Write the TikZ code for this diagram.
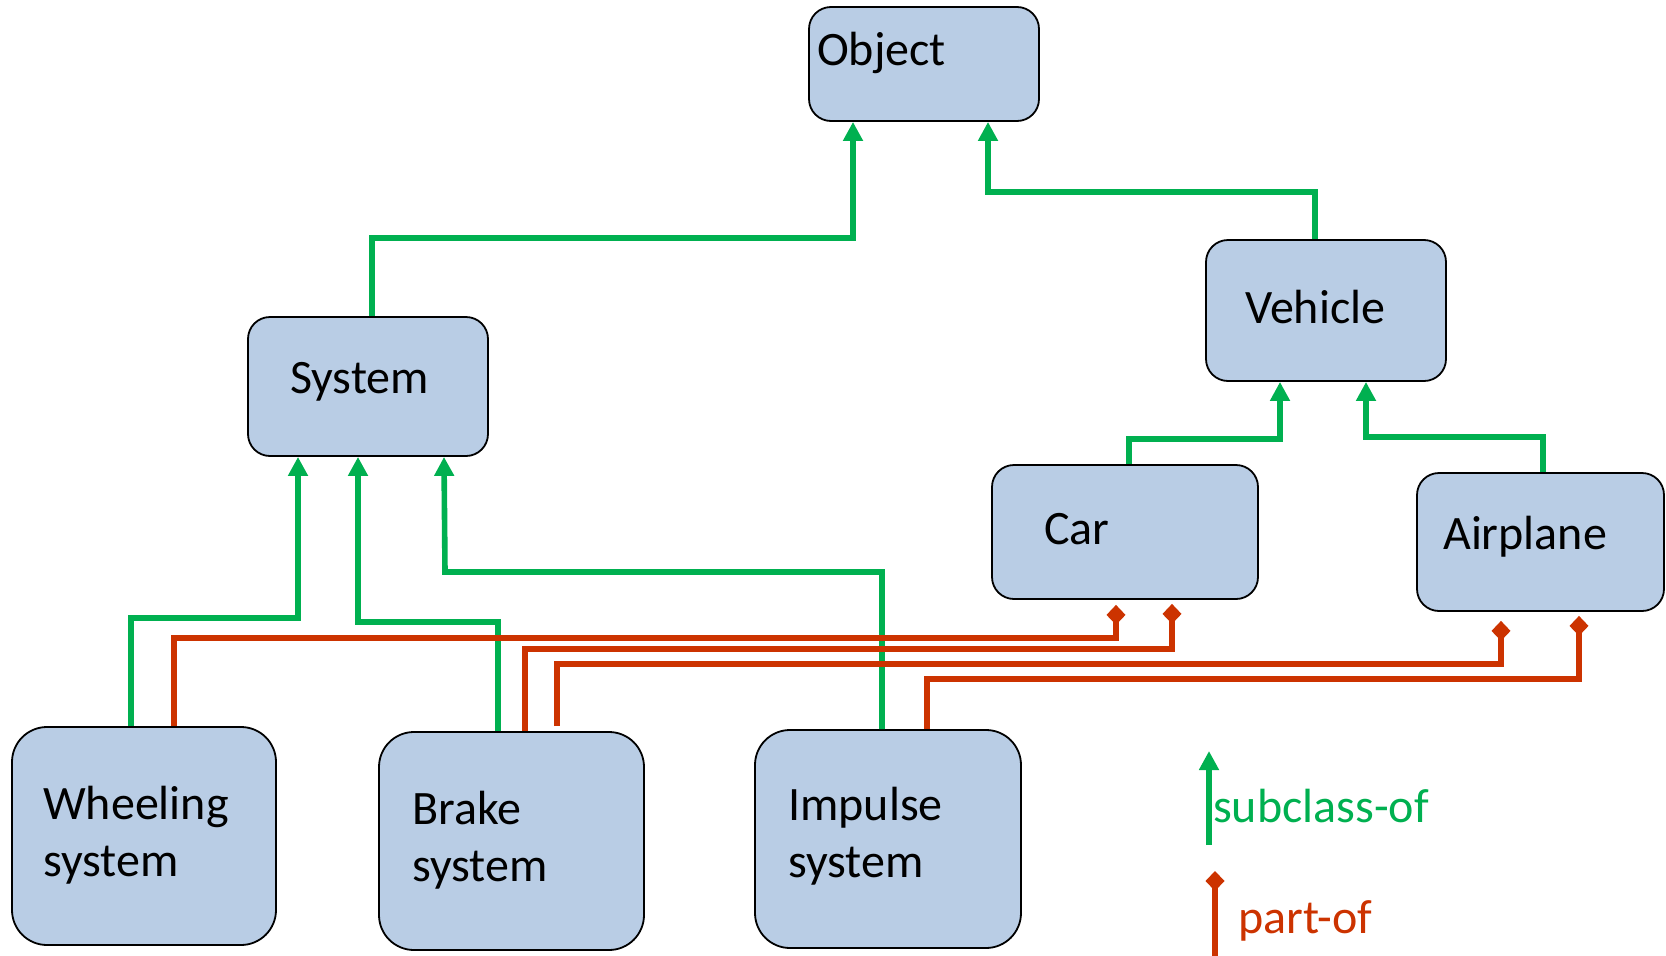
\documentclass[tikz,border=0pt]{standalone}
\usepackage{fontspec}
\setmainfont{Carlito}
\usetikzlibrary{arrows.meta,calc}
\definecolor{boxfill}{HTML}{B9CDE5}
\definecolor{subgreen}{HTML}{00B050}
\definecolor{partred}{HTML}{CC3300}

\begin{document}
\begin{tikzpicture}[x=1pt,y=-1pt,
  box/.style={draw=black, line width=1.8pt, fill=boxfill, rounded corners=#1, inner sep=0pt},
  box/.default=22pt,
  lbl/.style={anchor=base west, inner sep=0pt, font=\fontsize{48}{57}\selectfont},
  sub/.style={draw=subgreen, line width=5.6pt, -{Triangle[length=19pt,width=19pt]}},
  part/.style={draw=partred, line width=5.8pt, -{Kite[length=20pt,width=19pt,inset=10pt]}},
]
\useasboundingbox (0,0) rectangle (1666,956);

% class boxes
\node[box, minimum width=230pt, minimum height=114pt] (obj) at (924,64) {};
\node[box, minimum width=240pt, minimum height=139pt] (sys) at (368,386.5) {};
\node[box, minimum width=240pt, minimum height=141pt] (veh) at (1326,310.5) {};
\node[box, minimum width=266pt, minimum height=134pt] (car) at (1125,532) {};
\node[box, minimum width=247pt, minimum height=138pt] (air) at (1540.5,542) {};
\node[box=35pt, minimum width=264pt, minimum height=218pt] (wheel) at (144,836) {};
\node[box=35pt, minimum width=265pt, minimum height=218pt] (brake) at (511.5,841) {};
\node[box=35pt, minimum width=266pt, minimum height=218pt] (imp) at (888,839) {};

% box texts
\node[lbl] (objT) at (817,65) {Object};
\node[lbl] (sysT) at (290,393) {System};
\node[lbl] (vehT) at (1245,323) {Vehicle};
\node[lbl] (carT) at (1044,544) {Car};
\node[lbl] (airT) at (1443,549) {Airplane};
\node[lbl] (wheelT) at (43,819) {Wheeling};
\node[lbl] (wheelS) at (43,876) {system};
\node[lbl] (brakeT) at (412,824) {Brake};
\node[lbl] (brakeS) at (412,881) {system};
\node[lbl] (impT) at (788,820) {Impulse};
\node[lbl] (impS) at (788,877) {system};

% subclass-of links
\draw[sub] (sys.north -| 372,0) |- (853,238) -- (obj.south -| 853,0);
\draw[sub] (veh.north -| 1315,0) |- (988,192) -- (obj.south -| 988,0);
\draw[sub] (car.north -| 1129,0) |- (1280,439) -- (veh.south -| 1280,0);
\draw[sub] (air.north -| 1543,0) |- (1366,437) -- (veh.south -| 1366,0);
\draw[sub] (wheel.north -| 131,0) |- (298,618) -- (sys.south -| 298,0);
\draw[sub] (brake.north -| 498,0) |- (358,622) -- (sys.south -| 358,0);
\draw[sub] (imp.north -| 882,0) |- (445,572) -- (sys.south -| 444,0);

% part-of links
\draw[part] (wheel.north -| 174,0) |- (1116,638) -- ($(car.south -| 1116,0)+(0,5)$);
\draw[part] (brake.north -| 525,0) |- (1172,649) -- ($(car.south -| 1172,0)+(0,4)$);
\draw[part] ($(brake.north -| 557,0)+(0,-5)$) |- (1501,664) -- ($(air.south -| 1501,0)+(0,9)$);
\draw[part] (imp.north -| 927,0) |- (1579,679) -- ($(air.south -| 1579,0)+(0,4)$);

% legend
\coordinate (lgA) at (1209,845);
\coordinate (lgB) at (1209,751);
\draw[sub] (lgA) -- (lgB);
\node[lbl, text=subgreen] (lgSub) at (1213,822) {subclass-of};
\coordinate (lpA) at (1215,956);
\coordinate (lpB) at (1215,871);
\draw[part] (lpA) -- (lpB);
\node[lbl, text=partred] (lgPart) at (1238,933) {part-of};
\end{tikzpicture}
\end{document}
